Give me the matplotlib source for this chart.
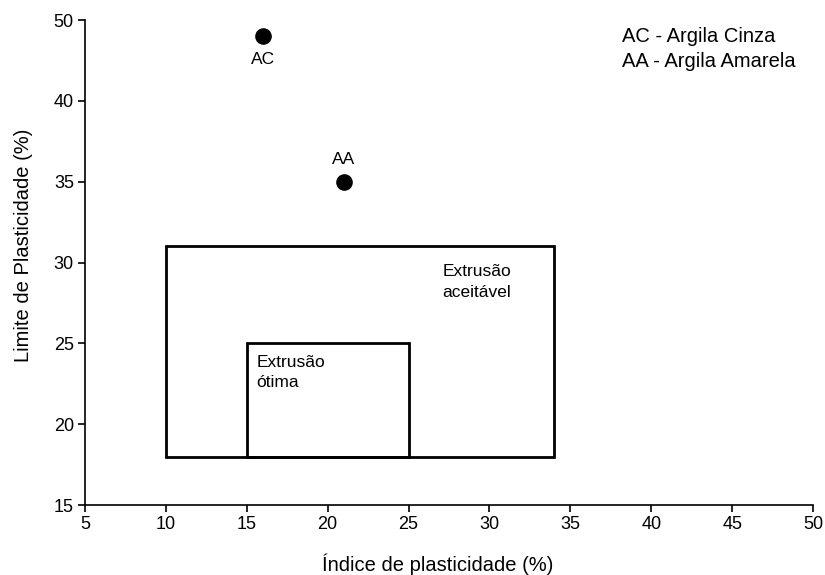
import numpy as np
import matplotlib.pyplot as plt
from matplotlib.patches import Rectangle

plt.rcParams['font.family'] = ['Liberation Sans', 'DejaVu Sans']

# clay samples: plasticity index x plasticity limit
samples = ['AC', 'AA']
ip = [16, 21]
lp = [48, 35]

# extrusion regions: (x0, x1, y0, y1)
acceptable = (10, 34, 18, 31)
optimal = (15, 25, 18, 25)

xticks = [5, 10, 15, 20, 25, 30, 35, 40, 45, 50]
yticks = [15, 20, 25, 30, 35, 40, 50]


# y axis is compressed above 40 (40-50 takes half the space)
def fwd(y):
    y = np.asarray(y, dtype=float)
    return np.where(y <= 40, y, 40 + (y - 40) / 2)


def inv(y):
    y = np.asarray(y, dtype=float)
    return np.where(y <= 40, y, 40 + (y - 40) * 2)


fig = plt.figure(figsize=(8.25, 5.75), dpi=100)
ax = fig.add_axes([0.103, 0.1217, 0.8825, 0.8433])
ax.set_yscale('function', functions=(fwd, inv))

ax.scatter(ip, lp, s=120, color='black', zorder=3)
ax.text(ip[0], lp[0] - 1.9, samples[0], ha='center', va='top', fontsize=12.5)
ax.text(ip[1], lp[1] + 0.9, samples[1], ha='center', va='bottom', fontsize=12.5)

for x0, x1, y0, y1 in (acceptable, optimal):
    ax.add_patch(Rectangle((x0, y0), x1 - x0, y1 - y0, fill=False,
                           edgecolor='black', lw=2))

ax.text(27.1, 29.9, 'Extrusão\naceitável', ha='left', va='top', fontsize=12.5,
        linespacing=1.45)
ax.text(15.6, 24.3, 'Extrusão\nótima', ha='left', va='top', fontsize=12.5,
        linespacing=1.4)

ax.text(0.7376, 0.985, 'AC - Argila Cinza\nAA - Argila Amarela',
        transform=ax.transAxes, ha='left', va='top', fontsize=14.5,
        linespacing=1.4)

ax.set_xlim(5, 50)
ax.set_ylim(15, 50)
ax.set_xticks(xticks)
ax.set_yticks(yticks)
ax.set_yticklabels([str(t) for t in yticks])
ax.tick_params(direction='out', length=5, width=1.2, labelsize=13, pad=3)

for side in ('top', 'right'):
    ax.spines[side].set_visible(False)
for side in ('left', 'bottom'):
    ax.spines[side].set_linewidth(1.2)

ax.set_xlabel('Índice de plasticidade (%)', fontsize=14.5)
ax.set_ylabel('Limite de Plasticidade (%)', fontsize=14.5)
ax.xaxis.set_label_coords(0.484, -0.101)
ax.yaxis.set_label_coords(-0.072, 0.536)

fig.savefig('out.png', dpi=100)
